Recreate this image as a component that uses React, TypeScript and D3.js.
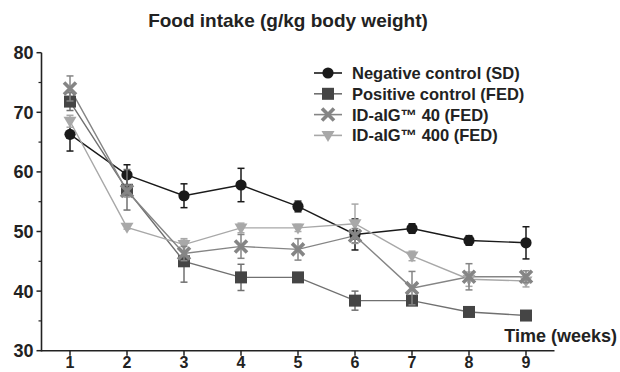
import React from "react";
import * as d3 from "d3";

const weeks = [1, 2, 3, 4, 5, 6, 7, 8, 9];
const yTicks = [30, 40, 50, 60, 70, 80];
const yMinorTicks = [35, 45, 55, 65, 75];

const negMean = [66.3, 59.5, 56.0, 57.8, 54.2, 49.5, 50.5, 48.5, 48.1];
const negErr = [2.8, 1.7, 2.0, 2.8, 0.9, 2.6, 0.8, 0.8, 2.7];

const posMean = [71.8, 57.0, 45.0, 42.3, 42.3, 38.4, 38.4, 36.5, 35.9];
const posErr = [1.5, 3.4, 3.5, 2.2, 0.3, 1.6, 0.5, 0.3, 0.3];

const ig40Mean = [74.0, 56.8, 46.3, 47.5, 47.0, 49.3, 40.5, 42.4, 42.4];
const ig40Err = [2.1, 1.0, 1.2, 2.0, 1.8, 1.2, 2.8, 2.2, 1.0];

const ig400Mean = [68.5, 50.7, 47.8, 50.6, 50.6, 51.3, 45.9, 42.0, 41.7];
const ig400Err = [1.0, 0.3, 1.0, 0.8, 0.6, 3.3, 0.8, 1.2, 1.0];

const legendLabels = [
  "Negative control (SD)",
  "Positive control (FED)",
  "ID-aIG\u2122 40 (FED)",
  "ID-aIG\u2122 400 (FED)",
];

const FONT = "'Liberation Sans', Arial, Helvetica, sans-serif";

type Series = {
  mean: number[];
  err: number[];
  marker: string;
  fill: string;
  line: string;
  errColor: string;
};

const series: Series[] = [
  { mean: negMean, err: negErr, marker: "circle", fill: "#1a1a1a", line: "#1a1a1a", errColor: "#1a1a1a" },
  { mean: posMean, err: posErr, marker: "square", fill: "#454545", line: "#707070", errColor: "#707070" },
  { mean: ig400Mean, err: ig400Err, marker: "triangle", fill: "#a8a8a8", line: "#a8a8a8", errColor: "#a8a8a8" },
  { mean: ig40Mean, err: ig40Err, marker: "x", fill: "#858585", line: "#858585", errColor: "#858585" },
];
const legendOrder = [0, 1, 3, 2];

function Marker({ type, x, y, fill }: { type: string; x: number; y: number; fill: string }) {
  if (type === "circle") return <circle cx={x} cy={y} r={5.6} fill={fill} />;
  if (type === "square") return <rect x={x - 6} y={y - 6} width={12} height={12} fill={fill} />;
  if (type === "triangle")
    return <path d={`M${x - 6.5},${y - 4.5}L${x + 6.5},${y - 4.5}L${x},${y + 6.5}Z`} fill={fill} />;
  const s = 6;
  return (
    <path
      d={`M${x - s},${y - s}L${x + s},${y + s}M${x - s},${y + s}L${x + s},${y - s}`}
      stroke={fill}
      strokeWidth={3.6}
      fill="none"
    />
  );
}

export default function App() {
  const x = d3.scaleLinear().domain([0.5, 9.5]).range([41.5, 554.5]);
  const y = d3.scaleLinear().domain([30, 80]).range([350.7, 52.7]);
  const axisY = 350.7;
  const axisX = 41.5;

  return (
    <svg
      width={620}
      height={372}
      style={{ position: "absolute", left: 0, top: 0, background: "#fff" }}
      fontFamily={FONT}
    >
      <rect width={620} height={372} fill="#fff" />
      <text x={288} y={27} textAnchor="middle" fontSize={19} fontWeight="bold" fill="#222">
        Food intake (g/kg body weight)
      </text>

      {/* axes */}
      <line x1={axisX} x2={axisX} y1={y(80)} y2={axisY + 0.75} stroke="#222" strokeWidth={1.6} />
      <line x1={axisX} x2={x(9.5)} y1={axisY} y2={axisY} stroke="#222" strokeWidth={1.6} />
      {yTicks.map((t) => (
        <g key={"y" + t}>
          <line x1={axisX - 5} x2={axisX} y1={y(t)} y2={y(t)} stroke="#222" strokeWidth={1.5} />
          <text x={axisX - 8} y={y(t) + 6.5} textAnchor="end" fontSize={18} fontWeight="bold" fill="#222">
            {t}
          </text>
        </g>
      ))}
      {yMinorTicks.map((t) => (
        <line key={"ym" + t} x1={axisX - 3} x2={axisX} y1={y(t)} y2={y(t)} stroke="#222" strokeWidth={1.2} />
      ))}
      {weeks.map((w) => (
        <g key={"x" + w}>
          <line x1={x(w)} x2={x(w)} y1={axisY} y2={axisY + 5} stroke="#222" strokeWidth={1.5} />
          <text x={x(w)} y={368} textAnchor="middle" fontSize={16} fontWeight="bold" fill="#222">
            {w}
          </text>
        </g>
      ))}
      <text x={617} y={342} textAnchor="end" fontSize={18} fontWeight="bold" fill="#222">
        Time (weeks)
      </text>

      {/* lines */}
      {series.map((s, i) => {
        const line = d3
          .line<number>()
          .x((_, j) => x(weeks[j]))
          .y((d) => y(d));
        return <path key={"l" + i} d={line(s.mean) || ""} fill="none" stroke={s.line} strokeWidth={1.4} />;
      })}

      {/* error bars & markers */}
      {series.map((s, i) => (
        <g key={"s" + i}>
          {s.mean.map((m, j) => {
            const cx = x(weeks[j]);
            const top = y(m + s.err[j]);
            const bot = y(m - s.err[j]);
            return (
              <g key={j}>
                <line x1={cx} x2={cx} y1={top} y2={bot} stroke={s.errColor} strokeWidth={1.5} />
                <line x1={cx - 3.5} x2={cx + 3.5} y1={top} y2={top} stroke={s.errColor} strokeWidth={1.5} />
                <line x1={cx - 3.5} x2={cx + 3.5} y1={bot} y2={bot} stroke={s.errColor} strokeWidth={1.5} />
              </g>
            );
          })}
          {s.mean.map((m, j) => (
            <Marker key={"m" + j} type={s.marker} x={x(weeks[j])} y={y(m)} fill={s.fill} />
          ))}
        </g>
      ))}

      {/* legend */}
      {legendOrder.map((si, k) => {
        const s = series[si];
        const ly = 73 + k * 20.8;
        return (
          <g key={"lg" + k}>
            <line x1={314} x2={342} y1={ly} y2={ly} stroke={s.line} strokeWidth={1.6} />
            <Marker type={s.marker} x={328} y={ly} fill={s.fill} />
            <text x={352} y={ly + 6} fontSize={16.5} fontWeight="bold" fill="#222">
              {legendLabels[k]}
            </text>
          </g>
        );
      })}
    </svg>
  );
}
